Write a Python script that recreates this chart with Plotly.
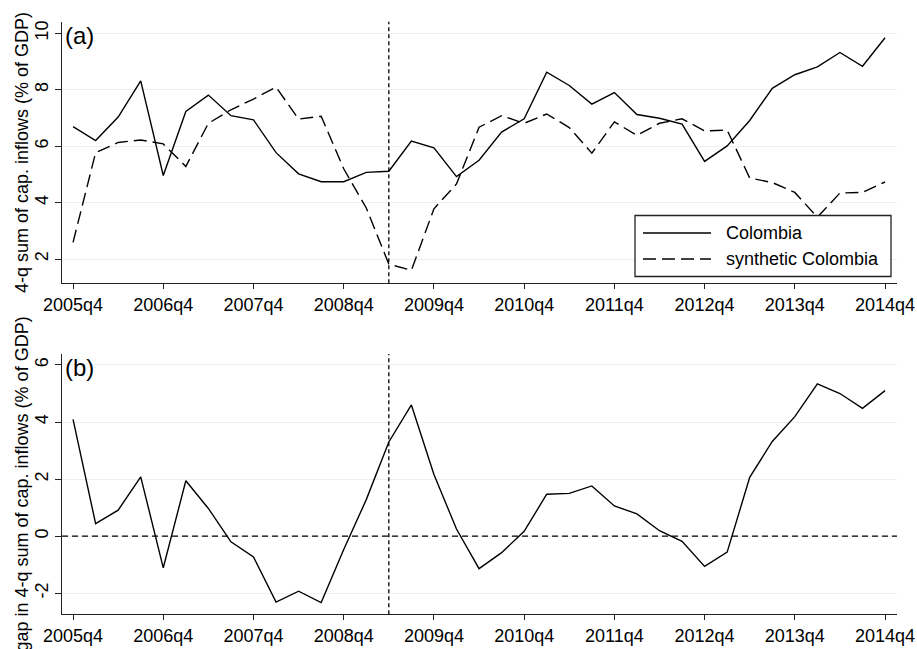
import plotly.graph_objects as go

# Quarterly periods 2005q4 .. 2014q4
quarters = [f"{y}q{q}" for y in range(2005, 2015) for q in (1, 2, 3, 4)]
quarters = quarters[quarters.index("2005q4"):quarters.index("2014q4") + 1]
tick_labels = quarters[::4]
treatment_quarter = "2009q2"

# 4-quarter sum of capital inflows (% of GDP)
colombia = [6.69, 6.20, 7.03, 8.31, 4.96, 7.23, 7.81, 7.08, 6.93, 5.77,
            5.02, 4.74, 4.74, 5.07, 5.11, 6.18, 5.94, 4.92, 5.50, 6.50,
            6.97, 8.62, 8.15, 7.49, 7.90, 7.12, 6.99, 6.78, 5.46, 6.01,
            6.91, 8.05, 8.53, 8.81, 9.32, 8.83, 9.84]
synthetic = [2.59, 5.77, 6.13, 6.22, 6.08, 5.28, 6.81, 7.29, 7.67, 8.09,
             6.96, 7.06, 5.20, 3.81, 1.82, 1.60, 3.78, 4.66, 6.67, 7.08,
             6.81, 7.14, 6.66, 5.75, 6.86, 6.38, 6.81, 6.97, 6.54, 6.57,
             4.87, 4.71, 4.36, 3.48, 4.34, 4.36, 4.73]
# Gap: Colombia minus synthetic Colombia
gap = [4.09, 0.44, 0.91, 2.08, -1.11, 1.94, 0.97, -0.20, -0.73, -2.31,
       -1.93, -2.33, -0.47, 1.28, 3.30, 4.60, 2.16, 0.25, -1.14, -0.58,
       0.17, 1.47, 1.50, 1.76, 1.06, 0.78, 0.19, -0.18, -1.06, -0.56,
       2.06, 3.32, 4.19, 5.34, 5.00, 4.48, 5.10]

top_ticks = [2, 4, 6, 8, 10]
bottom_ticks = [-2, 0, 2, 4, 6]
bottom_tick_text = ["-2", "0", "2", "4", "6"]

FONT = "Liberation Sans, Arial, Helvetica, sans-serif"
GRID = "#eaf1f1"
AXIS = "#222222"
W, H = 917, 649
L, R = 62, 897


def py(px):
    """Pixel row -> paper y (top/bottom margins are zero)."""
    return 1 - px / H


def px_x(px):
    """Pixel column -> paper x (paper spans the plotting area)."""
    return (px - L) / (R - L)


fig = go.Figure()

fig.add_trace(go.Scatter(x=quarters, y=colombia, mode="lines", name="Colombia",
                         line=dict(color="black", width=1.4),
                         xaxis="x", yaxis="y", showlegend=False))
fig.add_trace(go.Scatter(x=quarters, y=synthetic, mode="lines", name="synthetic Colombia",
                         line=dict(color="black", width=1.4, dash="13px,6px"),
                         xaxis="x", yaxis="y", showlegend=False))
fig.add_trace(go.Scatter(x=quarters, y=gap, mode="lines", name="gap",
                         line=dict(color="black", width=1.4),
                         xaxis="x2", yaxis="y2", showlegend=False))

xr = [-0.49, len(quarters) - 1 + 0.53]
xaxis_common = dict(
    type="category", range=xr, tickmode="array", tickvals=tick_labels,
    ticktext=tick_labels, ticks="outside", ticklen=5, tickwidth=1, tickcolor=AXIS,
    showline=True, linecolor=AXIS, linewidth=1, showgrid=False, zeroline=False,
    tickfont=dict(family=FONT, size=18, color="black"), fixedrange=True,
)
yaxis_common = dict(
    ticks="outside", ticklen=6, tickwidth=1, tickcolor=AXIS, tickangle=-90,
    showline=True, linecolor=AXIS, linewidth=1, showgrid=True, gridcolor=GRID,
    gridwidth=1, zeroline=False, tickfont=dict(family=FONT, size=18, color="black"),
    fixedrange=True,
)

top_dom = [py(283.3), py(21.7)]
bot_dom = [py(614.3), py(354.0)]

fig.update_layout(
    width=W, height=H,
    margin=dict(l=L, r=W - R, t=0, b=0, autoexpand=False),
    paper_bgcolor="white", plot_bgcolor="white",
    font=dict(family=FONT, size=18, color="black"),
    xaxis=dict(xaxis_common, domain=[0, 1], anchor="y"),
    yaxis=dict(yaxis_common, domain=top_dom, range=[1.14, 10.41],
               tickmode="array", tickvals=top_ticks, anchor="x"),
    xaxis2=dict(xaxis_common, domain=[0, 1], anchor="y2"),
    yaxis2=dict(yaxis_common, domain=bot_dom, range=[-2.74, 6.385],
                tickmode="array", tickvals=bottom_ticks, ticktext=bottom_tick_text,
                anchor="x2"),
)

t_idx = quarters.index(treatment_quarter)
shapes = [
    dict(type="line", xref="x", yref="y domain", x0=t_idx, x1=t_idx, y0=0, y1=1,
         line=dict(color="black", width=1.3, dash="4px,3px")),
    dict(type="line", xref="x2", yref="y2 domain", x0=t_idx, x1=t_idx, y0=0, y1=1,
         line=dict(color="black", width=1.3, dash="4px,3px")),
    dict(type="line", xref="x2 domain", yref="y2", x0=0, x1=1, y0=0, y1=0,
         line=dict(color="black", width=1.3, dash="6px,4px")),
]

# Legend box with line samples
lx0, lx1, ly0, ly1 = 635, 891, 215.5, 276.5
shapes.append(dict(type="rect", xref="paper", yref="paper",
                   x0=px_x(lx0), x1=px_x(lx1), y0=py(ly1), y1=py(ly0),
                   line=dict(color=AXIS, width=1.3), fillcolor="white", layer="above"))
legend_rows = [("Colombia", None, 233.0), ("synthetic Colombia", "13px,6px", 259.0)]
annotations = []
for label, dash, yy in legend_rows:
    ln = dict(color="black", width=1.4)
    if dash:
        ln["dash"] = dash
    shapes.append(dict(type="line", xref="paper", yref="paper",
                       x0=px_x(643), x1=px_x(711), y0=py(yy), y1=py(yy),
                       line=ln, layer="above"))
    annotations.append(dict(text=label, xref="paper", yref="paper",
                            x=px_x(724), y=py(yy), xanchor="left", yanchor="middle",
                            showarrow=False, font=dict(family=FONT, size=18, color="black")))

# Panel labels
annotations.append(dict(text="(a)", xref="paper", yref="paper", x=px_x(63), y=py(36),
                        xanchor="left", yanchor="middle", showarrow=False,
                        font=dict(family=FONT, size=24, color="black")))
annotations.append(dict(text="(b)", xref="paper", yref="paper", x=px_x(63), y=py(367),
                        xanchor="left", yanchor="middle", showarrow=False,
                        font=dict(family=FONT, size=24, color="black")))

# Y-axis titles
annotations.append(dict(text="4-q sum of cap. inflows (% of GDP)", xref="paper", yref="paper",
                        x=px_x(21.5), y=py(152.5), xanchor="center", yanchor="middle",
                        textangle=-90, showarrow=False,
                        font=dict(family=FONT, size=18, color="black")))
annotations.append(dict(text="gap in 4-q sum of cap. inflows (% of GDP)", xref="paper", yref="paper",
                        x=px_x(21.5), y=py(484.0), xanchor="center", yanchor="middle",
                        textangle=-90, showarrow=False,
                        font=dict(family=FONT, size=18, color="black")))

fig.update_layout(shapes=shapes, annotations=annotations)
fig.write_html("out.html")
